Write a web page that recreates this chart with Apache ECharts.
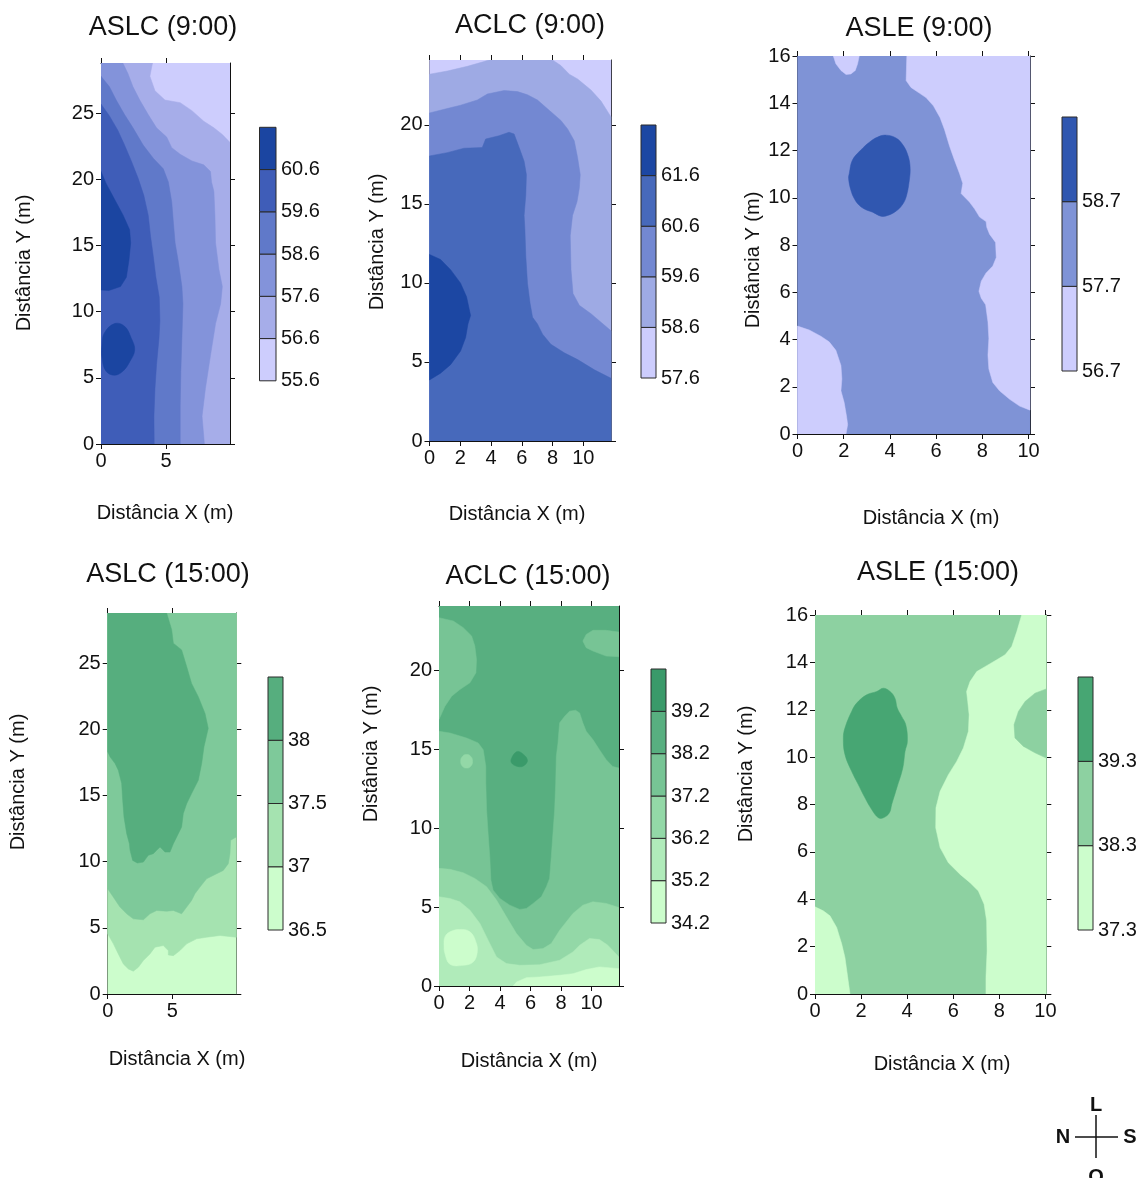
<!DOCTYPE html>
<html><head><meta charset="utf-8">
<script src="https://cdn.jsdelivr.net/npm/echarts@6/dist/echarts.min.js"></script>
<style>html,body{margin:0;padding:0;background:#fff}#c{width:1142px;height:1178px}</style>
</head><body><div id="c"></div>
<script>
const FONT = "'Liberation Sans', Arial, Helvetica, sans-serif";
const INK = '#111';

// ---------- tick labels ----------
const ticksX5 = [0, 5];
const ticksX2 = [0, 2, 4, 6, 8, 10];
const ticksY5_25 = [0, 5, 10, 15, 20, 25];
const ticksY5_20 = [0, 5, 10, 15, 20];
const ticksY2_16 = [0, 2, 4, 6, 8, 10, 12, 14, 16];

// ---------- ASLC (9:00) ----------
const aslc9Levels = [55.6, 56.6, 57.6, 58.6, 59.6, 60.6, 61.6];
const aslc9Colors = ['#cdcdfd', '#a6ade9', '#8393da', '#6079c9', '#3f5db8', '#1b45a1'];
const aslc9Ge566 = [[0,0],[9.92,0],[9.92,22.8],[9.33,23.4],[8.68,23.9],[7.9,24.4],[6.99,25.2],[6.09,25.8],[4.92,26.0],[4.15,26.7],[3.76,27.8],[3.96,28.8],[0,28.8]];
const aslc9Ge576 = [[0,0],[7.95,0],[7.77,2.1],[8.03,4.2],[8.42,6.7],[8.81,9.1],[9.2,10.6],[9.33,11.9],[9.07,13.2],[8.81,15.2],[8.76,17.3],[8.68,19.1],[8.5,19.8],[8.42,20.6],[7.9,21.1],[6.99,21.4],[6.09,21.9],[5.44,22.4],[5.05,23.2],[4.27,23.9],[3.63,24.9],[2.98,26.0],[2.46,27.0],[2.07,28.0],[1.68,28.8],[0,28.8]];
const aslc9Ge586 = [[0,0],[6.09,0],[6.09,2.9],[6.14,5.5],[6.22,8.0],[6.3,10.6],[6.22,11.9],[5.96,13.7],[5.7,15.2],[5.57,16.7],[5.44,18.3],[5.18,19.8],[4.79,20.8],[4.02,21.6],[3.24,22.6],[2.46,23.9],[1.81,24.9],[1.17,26.0],[0.65,27.0],[0,27.8]];
const aslc9Ge596 = [[0,0],[4.09,0],[4.07,2.1],[4.15,4.2],[4.27,6.0],[4.46,8.0],[4.53,9.3],[4.48,11.1],[4.22,12.6],[4.02,14.2],[3.81,15.7],[3.63,17.3],[3.29,18.8],[2.85,20.1],[2.33,21.4],[1.81,22.6],[1.3,23.7],[0.65,24.8],[0,25.7]];
const aslc9Ge606a = [[0,20.6],[0.39,19.7],[1.04,18.5],[1.7,17.3],[2.2,16.2],[2.28,15.2],[2.15,13.9],[1.95,12.6],[1.5,11.9],[0.6,11.6],[0,11.65]];
const aslc9Ge606b = [[0.26,8.4],[1.04,9.1],[1.81,8.9],[2.33,8.0],[2.59,7.1],[2.2,6.2],[1.68,5.5],[1.04,5.2],[0.39,5.5],[0.08,6.5],[0.08,7.5]];

// ---------- ACLC (9:00) ----------
const aclc9Levels = [57.6, 58.6, 59.6, 60.6, 61.6, 62.6];
const aclc9Colors = ['#cdcdfd', '#9eaae4', '#7388d2', '#4769bb', '#1c47a3'];
const aclc9Ge586 = [[0,0],[11.8,0],[11.8,20.5],[11.15,21.5],[10.5,22.2],[9.63,22.9],[9.09,23.2],[8.54,23.75],[8.0,24.1],[3.87,24.1],[3.54,24.0],[2.46,23.7],[1.15,23.4],[0,23.2]];
const aclc9Ge596 = [[0,0],[11.8,0],[11.8,6.97],[11.15,7.51],[10.5,8.05],[9.74,8.58],[9.33,9.33],[9.2,10.84],[9.15,12.98],[9.3,14.27],[9.59,15.13],[9.74,15.99],[9.8,16.85],[9.63,17.92],[9.41,18.99],[8.98,19.74],[8.54,20.28],[7.78,20.92],[7.02,21.57],[6.37,21.9],[5.72,22.1],[4.85,22.17],[3.76,21.95],[3.11,21.57],[2.02,21.24],[1.15,21.03],[0,20.75]];
const aclc9Ge606 = [[0,0],[11.8,0],[11.8,3.97],[10.72,4.5],[9.63,5.15],[8.76,5.58],[7.89,6.12],[7.35,6.76],[7.02,7.4],[6.7,7.83],[6.54,8.69],[6.37,9.98],[6.26,11.7],[6.2,13.41],[6.15,14.27],[6.26,15.56],[6.3,16.85],[6.15,17.7],[5.83,18.56],[5.5,19.42],[5.17,19.53],[4.52,19.31],[3.65,19.1],[3.43,18.56],[2.24,18.52],[1.15,18.24],[0,18.03]];
const aclc9Ge616 = [[0,11.8],[0.72,11.48],[1.37,10.84],[2.02,9.98],[2.41,9.12],[2.67,7.94],[2.5,7.4],[2.35,6.55],[2.02,5.69],[1.37,4.83],[0.72,4.29],[0,3.86]];

// ---------- ASLE (9:00) ----------
const asle9Levels = [56.7, 57.7, 58.7, 59.7];
const asle9Colors = ['#cdcdfd', '#7f93d6', '#3057b0'];
const asle9LowTop = [[1.55,16],[1.66,15.67],[1.88,15.39],[2.1,15.22],[2.31,15.24],[2.5,15.39],[2.6,15.67],[2.67,16]];
const asle9LowLeft = [[0,4.57],[0.51,4.4],[1.01,4.14],[1.37,3.9],[1.66,3.54],[1.88,2.9],[1.92,2.33],[1.88,1.83],[2.02,1.33],[2.12,0.76],[2.17,0.4],[2.1,0],[0,0]];
const asle9LowRight = [[4.73,16],[4.7,14.96],[4.91,14.67],[5.27,14.43],[5.56,14.24],[5.88,13.89],[6.17,13.39],[6.36,12.89],[6.58,12.18],[6.79,11.6],[7.01,11.03],[7.15,10.61],[7.08,10.18],[7.44,9.82],[7.66,9.53],[7.88,9.18],[8.16,8.99],[8.19,8.75],[8.31,8.46],[8.57,8.11],[8.6,7.47],[8.45,7.11],[8.16,6.82],[7.95,6.47],[7.85,6.04],[7.95,5.75],[8.14,5.47],[8.24,4.75],[8.28,4.04],[8.24,3.33],[8.28,2.75],[8.45,2.18],[8.74,1.83],[9.18,1.47],[9.61,1.18],[10.06,1.01],[10.06,16]];
const asle9High = [[2.24,11.03],[2.38,11.6],[2.75,12.03],[3.11,12.35],[3.47,12.57],[3.83,12.65],[4.26,12.53],[4.55,12.25],[4.77,11.82],[4.87,11.32],[4.84,10.75],[4.7,10.03],[4.52,9.68],[4.26,9.43],[3.9,9.25],[3.61,9.22],[3.25,9.39],[2.96,9.49],[2.67,9.68],[2.46,9.96],[2.31,10.32],[2.21,10.82]];

// ---------- ASLC (15:00) ----------
const aslc15Levels = [36.5, 37, 37.5, 38, 38.5];
const aslc15Colors = ['#ccfdcc', '#a5e3b0', '#7ec99a', '#56ae7e'];
const aslc15Ge37 = [[0,28.8],[9.95,28.8],[9.95,4.29],[8.69,4.42],[7.65,4.29],[6.88,4.17],[6.11,3.79],[5.59,3.28],[5.08,2.9],[4.69,2.95],[4.69,3.28],[4.3,3.66],[3.66,3.54],[3.27,3.03],[2.76,2.53],[2.37,2.02],[1.98,1.72],[1.6,1.89],[1.21,2.27],[0.82,3.03],[0.44,3.79],[0,4.55]];
const aslc15Ge375 = [[0,28.8],[9.95,28.8],[9.95,11.87],[9.51,11.62],[9.46,10.61],[9.33,9.85],[8.94,9.34],[8.43,9.09],[7.65,8.71],[7.14,8.08],[6.75,7.58],[6.49,7.07],[6.11,6.57],[5.72,6.06],[5.08,6.31],[4.56,6.26],[3.79,6.31],[3.27,6.06],[2.76,5.61],[1.98,5.68],[1.47,6.06],[0.95,6.57],[0.44,7.32],[0,7.95]];
const aslc15Ge38 = [[0,28.8],[0,18.31],[0.18,17.93],[0.57,17.42],[0.82,16.92],[1.08,15.91],[1.16,14.65],[1.26,13.38],[1.47,12.12],[1.68,11.36],[1.73,10.86],[1.93,10.1],[2.29,9.9],[2.76,9.97],[3.14,10.48],[3.53,10.61],[3.79,10.86],[4.05,11.11],[4.43,10.73],[4.82,10.73],[5.08,11.36],[5.34,11.87],[5.72,12.63],[5.85,13.64],[6.11,14.39],[6.49,15.15],[7.01,16.16],[7.27,17.42],[7.45,18.69],[7.78,20.08],[7.53,21.21],[7.01,22.47],[6.49,23.48],[6.11,24.75],[5.72,26.01],[5.08,26.52],[4.95,27.53],[4.56,28.8]];

// ---------- ACLC (15:00) ----------
const aclc15Levels = [34.2, 35.2, 36.2, 37.2, 38.2, 39.2, 40.2];
const aclc15Colors = ['#ccfdcc', '#b0ebba', '#93d8a7', '#77c495', '#58af80', '#3a9a6a'];
const aclc15LowerTL = [[0,23.32],[0.94,23.11],[1.59,22.69],[2.14,22.16],[2.35,21.52],[2.46,20.68],[2.42,19.83],[2.03,19.2],[1.37,18.77],[0.83,18.35],[0.39,17.71],[0,16.87]];
const aclc15LowerTR = [[9.43,21.84],[9.65,22.26],[10.09,22.52],[10.96,22.52],[11.8,22.41],[11.8,20.85],[10.96,20.89],[10.09,21.21],[9.65,21.42]];
const aclc15Le382 = [[0,0],[0,16.13],[0.72,16.02],[1.81,15.7],[2.57,15.39],[2.9,14.96],[3.07,13.9],[3.07,12.85],[3.12,11.15],[3.22,9.67],[3.33,8.19],[3.4,6.71],[3.55,6.07],[3.99,5.54],[4.64,5.12],[5.29,4.85],[5.73,4.91],[6.17,5.23],[6.71,5.65],[7.04,6.29],[7.25,6.81],[7.36,8.19],[7.47,9.67],[7.58,11.15],[7.65,12.85],[7.69,14.54],[7.8,15.39],[7.86,16.13],[7.91,16.66],[8.24,17.08],[8.56,17.4],[8.95,17.46],[9.22,17.29],[9.43,16.66],[9.65,16.13],[10.09,15.6],[10.52,14.96],[10.96,14.33],[11.39,13.9],[11.8,13.8],[11.8,0]];
const aclc15Dot = [[1.42,14.23],[1.55,14.55],[1.81,14.65],[2.07,14.55],[2.2,14.23],[2.07,13.9],[1.81,13.8],[1.55,13.9]];
const aclc15Peak = [[4.75,14.41],[5.08,14.83],[5.4,14.77],[5.8,14.3],[5.51,13.92],[5.08,13.92],[4.75,14.13]];
const aclc15Le372 = [[0,0],[0,7.45],[0.72,7.39],[1.59,7.17],[2.35,6.81],[3.12,6.29],[3.77,5.44],[4.42,4.38],[5.08,3.32],[5.73,2.58],[6.17,2.31],[6.82,2.37],[7.36,2.69],[7.91,3.53],[8.78,4.59],[9.43,5.12],[10.09,5.33],[10.96,5.23],[11.8,4.97],[11.8,0]];
const aclc15Le362 = [[0,0],[0,5.65],[0.72,5.54],[1.37,5.33],[2.03,4.8],[2.68,3.96],[3.22,2.9],[3.77,1.84],[4.42,1.42],[5.29,1.31],[6.6,1.35],[7.91,1.63],[8.78,2.16],[9.22,2.58],[9.87,3.01],[10.52,2.94],[11.07,2.58],[11.8,1.84],[11.8,0]];
const aclc15LowBlob = [[0.39,3.11],[0.72,3.43],[1.37,3.58],[2.03,3.43],[2.42,2.79],[2.51,2.16],[2.24,1.52],[1.59,1.31],[0.72,1.38],[0.39,2.05],[0.33,2.58]];
const aclc15LowStrip = [[4.86,0],[5.08,0.25],[5.73,0.53],[6.6,0.57],[7.91,0.68],[8.78,0.78],[9.65,1.04],[10.52,1.21],[11.8,1.1],[11.8,0]];

// ---------- ASLE (15:00) ----------
const asle15Levels = [37.3, 38.3, 39.3, 40.3];
const asle15Colors = ['#ccfdcc', '#8dd1a1', '#47a673'];
const asle15LowLeft = [[0,3.68],[0.36,3.51],[0.65,3.3],[0.94,2.81],[1.16,2.11],[1.3,1.54],[1.4,0.84],[1.52,0],[0,0]];
const asle15LowRight = [[8.97,16],[8.76,15.3],[8.54,14.67],[8.25,14.32],[7.89,14.11],[7.38,13.82],[7.02,13.61],[6.73,13.19],[6.58,12.77],[6.63,12.35],[6.69,11.79],[6.66,11.09],[6.44,10.39],[6.15,9.82],[5.79,9.26],[5.43,8.56],[5.25,7.86],[5.24,7.02],[5.43,6.18],[5.79,5.54],[6.3,5.05],[6.73,4.7],[7.09,4.35],[7.34,3.79],[7.45,3.09],[7.47,1.82],[7.42,0.7],[7.42,0],[10.04,0],[10.04,16]];
const asle15MidRight = [[10.04,12.88],[9.55,12.7],[9.12,12.35],[8.83,11.93],[8.64,11.37],[8.68,10.81],[9.04,10.46],[9.55,10.18],[10.04,9.96]];
const asle15High = [[1.23,10.81],[1.3,11.23],[1.59,11.93],[1.81,12.28],[2.24,12.63],[2.68,12.77],[2.97,12.91],[3.26,12.77],[3.47,12.49],[3.57,12.07],[3.76,11.72],[3.94,11.37],[4.01,10.67],[3.91,10.25],[3.81,9.54],[3.55,8.7],[3.33,8.0],[3.23,7.65],[2.97,7.44],[2.75,7.44],[2.46,7.79],[2.17,8.28],[1.88,8.84],[1.59,9.4],[1.3,10.11]];

// ---------- panel assembly ----------
const panels = [
  { title: 'ASLC (9:00)', xMax: 9.92, yMax: 28.8, xTicks: ticksX5, yTicks: ticksY5_25, xInt: 5, yInt: 5,
    levels: aslc9Levels, colors: aslc9Colors, base: 0,
    regions: [{lv:1, pts:aslc9Ge566},{lv:2, pts:aslc9Ge576},{lv:3, pts:aslc9Ge586},{lv:4, pts:aslc9Ge596},{lv:5, pts:aslc9Ge606a},{lv:5, pts:aslc9Ge606b, smooth:0.4}],
    grid: {left:101, top:63, width:129, height:381}, bar: {left:259.5, top:127.3, width:16.5, height:253.5},
    titlePos: [163, 28], xNamePos: [165, 513], yNamePos: [24, 263] },
  { title: 'ACLC (9:00)', xMax: 11.8, yMax: 24.1, xTicks: ticksX2, yTicks: ticksY5_20, xInt: 2, yInt: 5,
    levels: aclc9Levels, colors: aclc9Colors, base: 0,
    regions: [{lv:1, pts:aclc9Ge586},{lv:2, pts:aclc9Ge596},{lv:3, pts:aclc9Ge606},{lv:4, pts:aclc9Ge616}],
    grid: {left:429.5, top:60, width:181.5, height:381}, bar: {left:641, top:125, width:15, height:253},
    titlePos: [530, 26], xNamePos: [517, 514], yNamePos: [377, 242] },
  { title: 'ASLE (9:00)', xMax: 10.06, yMax: 16, xTicks: ticksX2, yTicks: ticksY2_16, xInt: 2, yInt: 2,
    levels: asle9Levels, colors: asle9Colors, base: 1,
    regions: [{lv:0, pts:asle9LowTop},{lv:0, pts:asle9LowLeft},{lv:0, pts:asle9LowRight},{lv:2, pts:asle9High, smooth:0.4}],
    grid: {left:797.5, top:56, width:232.5, height:378}, bar: {left:1062, top:117, width:15, height:254},
    titlePos: [919, 29], xNamePos: [931, 518], yNamePos: [753, 260] },
  { title: 'ASLC (15:00)', xMax: 9.95, yMax: 28.8, xTicks: ticksX5, yTicks: ticksY5_25, xInt: 5, yInt: 5,
    levels: aslc15Levels, colors: aslc15Colors, base: 0,
    regions: [{lv:1, pts:aslc15Ge37},{lv:2, pts:aslc15Ge375},{lv:3, pts:aslc15Ge38}],
    grid: {left:107.7, top:613, width:128.6, height:381}, bar: {left:268, top:677, width:15, height:253},
    titlePos: [168, 575], xNamePos: [177, 1059], yNamePos: [18, 782] },
  { title: 'ACLC (15:00)', xMax: 11.8, yMax: 24.06, xTicks: ticksX2, yTicks: ticksY5_20, xInt: 2, yInt: 5,
    levels: aclc15Levels, colors: aclc15Colors, base: 4,
    regions: [{lv:3, pts:aclc15LowerTL},{lv:3, pts:aclc15LowerTR},{lv:3, pts:aclc15Le382},{lv:2, pts:aclc15Dot, smooth:0.5},{lv:5, pts:aclc15Peak, smooth:0.4},{lv:2, pts:aclc15Le372},{lv:1, pts:aclc15Le362},{lv:0, pts:aclc15LowBlob, smooth:0.4},{lv:0, pts:aclc15LowStrip}],
    grid: {left:439, top:606, width:180, height:380}, bar: {left:651, top:669, width:15, height:254},
    titlePos: [528, 577], xNamePos: [529, 1061], yNamePos: [371, 754] },
  { title: 'ASLE (15:00)', xMax: 10.04, yMax: 16, xTicks: ticksX2, yTicks: ticksY2_16, xInt: 2, yInt: 2,
    levels: asle15Levels, colors: asle15Colors, base: 1,
    regions: [{lv:0, pts:asle15LowLeft},{lv:0, pts:asle15LowRight},{lv:1, pts:asle15MidRight},{lv:2, pts:asle15High, smooth:0.4}],
    grid: {left:815, top:615, width:231.3, height:379}, bar: {left:1078, top:677, width:15, height:253},
    titlePos: [938, 573], xNamePos: [942, 1064], yNamePos: [746, 774] }
];

const grids = [], xAxes = [], yAxes = [], series = [], graphics = [];
const lineStyle = {color: INK, width: 1};

function axisLabelFmt(ticks) {
  return function (v) { return ticks.some(t => Math.abs(t - v) < 1e-6) ? String(v) : ''; };
}

panels.forEach((p, i) => {
  const gi = grids.length;
  grids.push(Object.assign({containLabel: false}, p.grid));
  const xb = xAxes.length;
  [['bottom', true], ['top', false]].forEach(([pos, lab]) => {
    xAxes.push({
      type: 'value', gridIndex: gi, position: pos, min: 0, max: p.xMax, interval: p.xInt,
      axisLine: {show: true, onZero: false, lineStyle},
      axisTick: {show: true, length: 5, inside: false, customValues: p.xTicks, lineStyle},
      axisLabel: {show: lab, customValues: p.xTicks, formatter: axisLabelFmt(p.xTicks), fontSize: 20, margin: 7, color: INK, fontFamily: FONT},
      splitLine: {show: false}
    });
  });
  const yb = yAxes.length;
  [['left', true], ['right', false]].forEach(([pos, lab]) => {
    yAxes.push({
      type: 'value', gridIndex: gi, position: pos, min: 0, max: p.yMax, interval: p.yInt,
      axisLine: {show: true, onZero: false, lineStyle},
      axisTick: {show: true, length: 5, inside: false, customValues: p.yTicks, lineStyle},
      axisLabel: {show: lab, customValues: p.yTicks, formatter: axisLabelFmt(p.yTicks), fontSize: 20, margin: 7, color: INK, fontFamily: FONT},
      splitLine: {show: false}
    });
  });
  const regions = [{lv: p.base, pts: [[0,0],[p.xMax,0],[p.xMax,p.yMax],[0,p.yMax]]}].concat(p.regions);
  series.push({
    type: 'custom', coordinateSystem: 'cartesian2d', xAxisIndex: xb, yAxisIndex: yb, clip: true, silent: true,
    data: regions.map((r, k) => [k, 0]),
    renderItem: function (params, api) {
      const r = regions[params.dataIndex];
      const pts = r.pts.map(pt => api.coord(pt));
      const c = p.colors[r.lv];
      return {type: 'polygon', shape: {points: pts, smooth: r.smooth || 0}, style: {fill: c, stroke: c, lineWidth: 0.5}};
    },
    z: 1
  });

  // colour bar
  const bg = grids.length;
  grids.push(Object.assign({containLabel: false}, p.bar));
  const bx = xAxes.length;
  xAxes.push({type: 'value', gridIndex: bg, min: 0, max: 1, show: false});
  const by = yAxes.length;
  const lv = p.levels;
  yAxes.push({
    type: 'value', gridIndex: bg, position: 'right', min: lv[0], max: lv[lv.length - 1],
    interval: Math.round((lv[1] - lv[0]) * 1000) / 1000,
    axisLine: {show: false},
    axisTick: {show: true, length: 3, inside: false, customValues: lv.slice(1, -1), lineStyle: {color: '#222', width: 1}},
    axisLabel: {show: true, customValues: lv.slice(0, -1), formatter: axisLabelFmt(lv.slice(0, -1)), fontSize: 20, margin: 5, color: INK, fontFamily: FONT},
    splitLine: {show: false}
  });
  const bands = lv.slice(0, -1).map((lo, k) => [k, lo, lv[k + 1]]);
  series.push({
    type: 'custom', coordinateSystem: 'cartesian2d', xAxisIndex: bx, yAxisIndex: by, silent: true,
    data: bands,
    renderItem: function (params, api) {
      const k = api.value(0);
      const a = api.coord([0, api.value(1)]);
      const b = api.coord([1, api.value(2)]);
      return {type: 'rect', shape: {x: a[0], y: b[1], width: b[0] - a[0], height: a[1] - b[1]},
              style: {fill: p.colors[k], stroke: '#2a2a2a', lineWidth: 1}};
    },
    z: 2
  });

  graphics.push({type: 'text', x: p.titlePos[0], y: p.titlePos[1], style: {text: p.title, fontSize: 27, fontFamily: FONT, fill: INK, align: 'center', verticalAlign: 'middle'}});
  graphics.push({type: 'text', x: p.xNamePos[0], y: p.xNamePos[1], style: {text: 'Distância X (m)', fontSize: 20, fontFamily: FONT, fill: INK, align: 'center', verticalAlign: 'middle'}});
  graphics.push({type: 'text', x: p.yNamePos[0], y: p.yNamePos[1], rotation: Math.PI / 2, style: {text: 'Distância Y (m)', fontSize: 20, fontFamily: FONT, fill: INK, align: 'center', verticalAlign: 'middle'}});
});

// compass rose
const compass = {cx: 1096, cy: 1137};
graphics.push({type: 'line', shape: {x1: compass.cx - 21, y1: compass.cy, x2: compass.cx + 22, y2: compass.cy}, style: {stroke: INK, lineWidth: 1.5}});
graphics.push({type: 'line', shape: {x1: compass.cx, y1: compass.cy - 22, x2: compass.cx, y2: compass.cy + 21}, style: {stroke: INK, lineWidth: 1.5}});
[['L', 0, -32], ['N', -33, 0], ['S', 34, 0], ['O', 0, 40]].forEach(([t, dx, dy]) => {
  graphics.push({type: 'text', x: compass.cx + dx, y: compass.cy + dy, style: {text: t, fontSize: 20, fontWeight: 'bold', fontFamily: FONT, fill: INK, align: 'center', verticalAlign: 'middle'}});
});

const chart = echarts.init(document.getElementById('c'), null, {renderer: 'canvas'});
chart.setOption({
  animation: false,
  backgroundColor: '#ffffff',
  grid: grids, xAxis: xAxes, yAxis: yAxes, series: series, graphic: graphics
});
</script></body></html>
